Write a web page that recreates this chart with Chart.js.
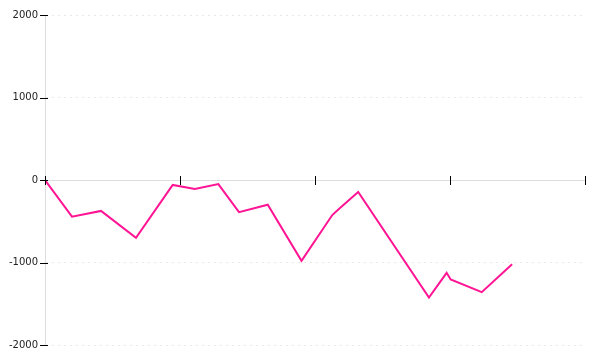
<!DOCTYPE html>
<html>
<head>
<meta charset="utf-8">
<script src="https://cdn.jsdelivr.net/npm/chart.js@4/dist/chart.umd.min.js"></script>
<style>
  body { margin: 0; background: #fff; }
  #wrap { width: 600px; height: 360px; }
</style>
</head>
<body>
<div id="wrap"><canvas id="myChart" width="600" height="360"></canvas></div>
<script>
var xValues = [0, 20, 41.5, 67.4, 94.6, 111, 128.4, 143.7, 165, 190, 212.8, 218.5, 232, 284.4, 297.5, 300.5, 323.5, 346];
var yValues = [0, -445, -375, -700, -60, -110, -50, -390, -300, -980, -425, -340, -145, -1425, -1125, -1205, -1360, -1020];
var yTicks = [-2000, -1000, 0, 1000, 2000];

var points = xValues.map(function (x, i) { return { x: x, y: yValues[i] }; });

// tick marks that cross the axis lines
var crossTicks = {
    id: 'crossTicks',
    afterDraw: function (chart) {
        var ctx = chart.ctx;
        var xs = chart.scales.x;
        var ys = chart.scales.y;
        var zero = ys.getPixelForValue(0);
        var left = chart.chartArea.left;
        ctx.save();
        ctx.strokeStyle = '#000';
        ctx.lineWidth = 1;
        ctx.beginPath();
        xs.ticks.forEach(function (t) {
            var px = Math.round(xs.getPixelForValue(t.value)) + 0.5;
            ctx.moveTo(px, zero - 4);
            ctx.lineTo(px, zero + 5);
        });
        ys.ticks.forEach(function (t) {
            var py = Math.round(ys.getPixelForValue(t.value)) + 0.5;
            ctx.moveTo(left - 5, py);
            ctx.lineTo(left + 3, py);
        });
        ctx.stroke();
        ctx.restore();
    }
};

new Chart("myChart", {
    type: "line",
    data: {
        datasets: [{
            data: points,
            borderColor: "#ff1493",
            borderWidth: 2,
            pointRadius: 0,
            tension: 0,
            fill: false
        }]
    },
    options: {
        responsive: false,
        animation: false,
        layout: { padding: { top: 15, right: 15, bottom: 15, left: 0 } },
        plugins: {
            legend: { display: false },
            tooltip: { enabled: false }
        },
        scales: {
            x: {
                type: "linear",
                position: { y: 0 },
                min: 0,
                max: 400,
                ticks: { display: false, stepSize: 100 },
                grid: { display: false, drawTicks: false },
                border: { display: true, color: "#dddddd", width: 1 }
            },
            y: {
                min: -2000,
                max: 2000,
                afterBuildTicks: function (s) { s.ticks = yTicks.map(function (v) { return { value: v }; }); },
                afterFit: function (s) { s.width = 45; },
                ticks: {
                    padding: 7,
                    color: "#222",
                    font: { family: "DejaVu Sans", size: 10 },
                    callback: function (v) { return String(v); }
                },
                grid: { color: "#e8e8e8", drawTicks: false },
                border: { display: true, color: "#dddddd", width: 1, dash: [2, 4] }
            }
        }
    },
    plugins: [crossTicks]
});
</script>
</body>
</html>
